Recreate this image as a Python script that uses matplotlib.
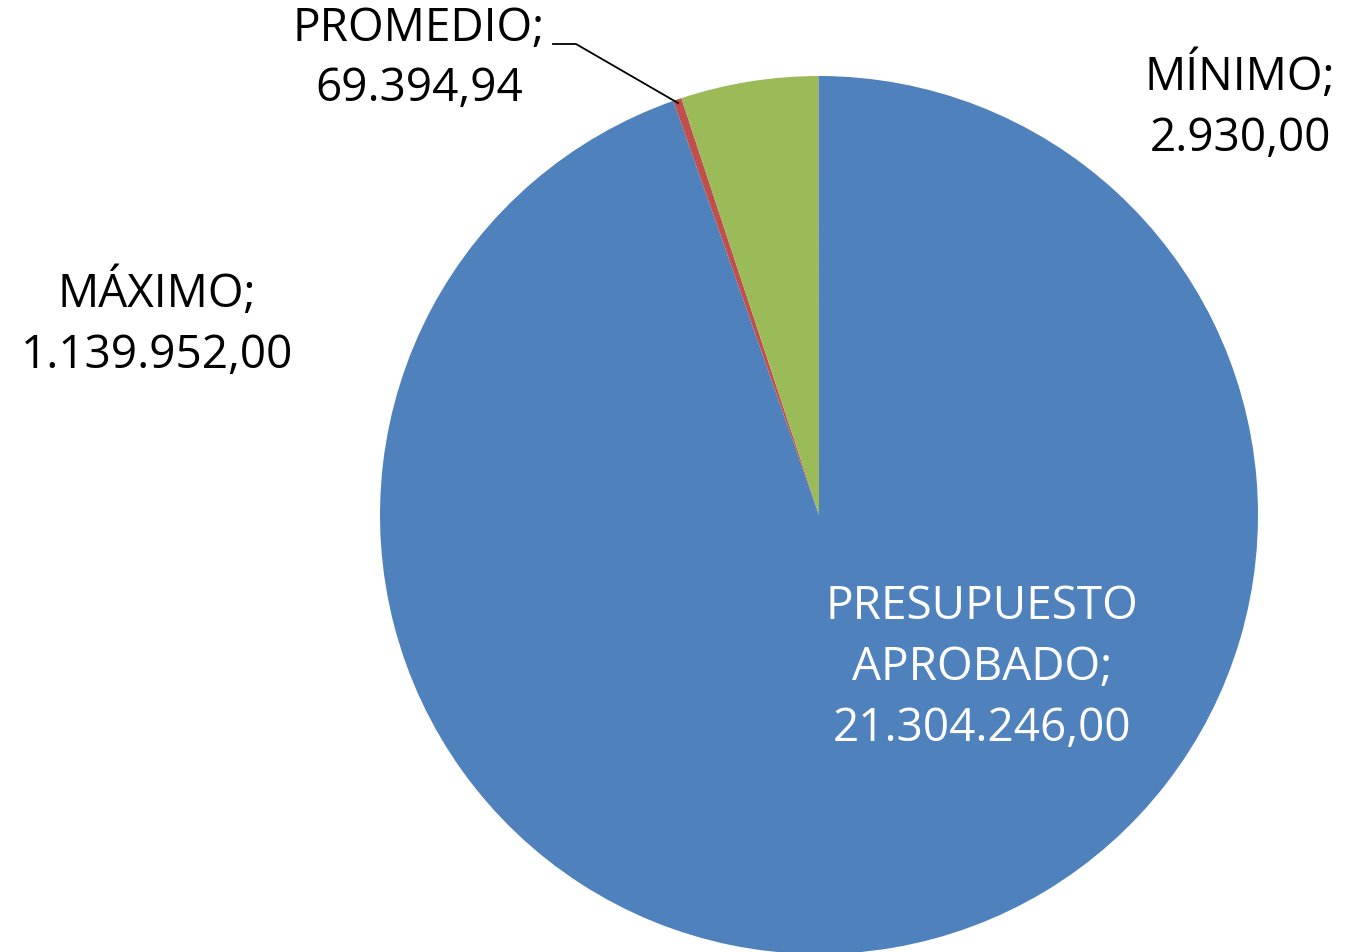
import matplotlib
matplotlib.use("Agg")
import matplotlib.pyplot as plt

categories = ["PRESUPUESTO\nAPROBADO", "PROMEDIO", "MÁXIMO", "MÍNIMO"]
values = [21304246.00, 69394.94, 1139952.00, 2930.00]
colors = ["#4F81BD", "#C0504D", "#9BBB59", "#8064A2"]

W, H = 1353, 953
fig = plt.figure(figsize=(W / 100, H / 100), dpi=100)
ax = fig.add_axes([0, 0, 1, 1])
ax.set_xlim(0, W)
ax.set_ylim(0, H)
ax.set_aspect("equal")
ax.axis("off")

cx, cy, r = 819, H - 516, 439
ax.pie(values, colors=colors, startangle=90, counterclock=False,
       center=(cx, cy), radius=r, frame=True,
       wedgeprops=dict(linewidth=0))
ax.set_xlim(0, W)
ax.set_ylim(0, H)
ax.axis("off")


def fmt(v):
    s = f"{v:,.2f}"
    return s.replace(",", "X").replace(".", ",").replace("X", ".")


font = dict(family=["Open Sans", "DejaVu Sans"], fontsize=33, linespacing=1.42)
# label positions (pixel coords, y from top)
pos = {
    "PRESUPUESTO\nAPROBADO": (982, 668, "white"),
    "PROMEDIO": (419, 59, "black"),
    "MÁXIMO": (157, 324, "black"),
    "MÍNIMO": (1240, 107, "black"),
}
for cat, v in zip(categories, values):
    x, y, c = pos[cat]
    ax.text(x, H - y, f"{cat};\n{fmt(v)}", ha="center", va="center",
            color=c, **font)

# leader line for PROMEDIO
ax.plot([553, 576, 678], [H - 45, H - 45, H - 104], color="black", lw=1.3)

fig.savefig("out.png", dpi=100)
